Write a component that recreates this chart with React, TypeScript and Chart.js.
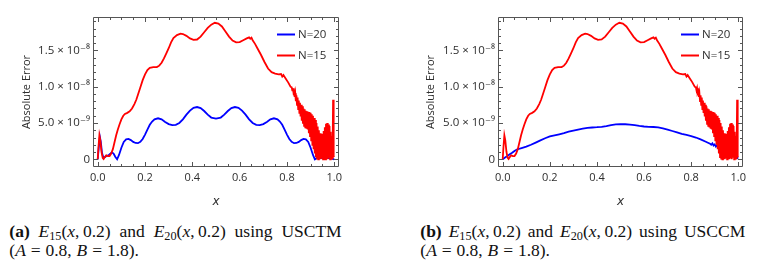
import React, { useEffect, useRef } from 'react';
import { Chart, registerables } from 'chart.js';

Chart.register(...registerables);

// Error values are in units of 1e-9 (the tick labels carry the power of ten)
const xTickValues = [0, 0.2, 0.4, 0.6, 0.8, 1.0];
const xTickLabels = ['0.0', '0.2', '0.4', '0.6', '0.8', '1.0'];
const xMinorTicks = [0.05, 0.1, 0.15, 0.25, 0.3, 0.35, 0.45, 0.5, 0.55, 0.65, 0.7, 0.75, 0.85, 0.9, 0.95];
const yTickValues = [0, 5, 10, 15];
const yTickLabels = ['0', '5.0 × 10⁻⁹', '1.0 × 10⁻⁸', '1.5 × 10⁻⁸'];
const yMinorTicks = [1, 2, 3, 4, 6, 7, 8, 9, 11, 12, 13, 14, 16, 17, 18, 19];

const seriesLabels = ['N=20', 'N=15'];

// N=15 error curve (same in both panels)
const redN15: [number, number][] = [
  [0, 0], [0.003, 1.6], [0.007, 3.3], [0.011, 2.6], [0.016, 1.0], [0.021, 0.2], [0.025, 0.05], [0.03, 0.3],
  [0.036, 0.55], [0.043, 0.45], [0.05, 0.45], [0.057, 0.8], [0.064, 1.4], [0.07, 2.2], [0.078, 3.3], [0.085, 4.1],
  [0.092, 4.8], [0.1, 5.5], [0.108, 6.0], [0.115, 6.25], [0.125, 6.4], [0.135, 6.6], [0.145, 7.0], [0.155, 7.6],
  [0.163, 8.2], [0.17, 8.9], [0.18, 9.9], [0.19, 10.9], [0.2, 11.7], [0.21, 12.3], [0.22, 12.6], [0.235, 12.7],
  [0.25, 12.7], [0.26, 12.9], [0.27, 13.3], [0.28, 13.9], [0.29, 14.6], [0.3, 15.3], [0.31, 16.1], [0.32, 16.7],
  [0.335, 17.1], [0.35, 17.3], [0.36, 17.25], [0.375, 17.0], [0.39, 16.65], [0.405, 16.45], [0.42, 16.5],
  [0.435, 16.9], [0.45, 17.5], [0.465, 18.1], [0.48, 18.55], [0.495, 18.8], [0.51, 18.7], [0.525, 18.3],
  [0.54, 17.6], [0.555, 16.9], [0.57, 16.35], [0.585, 16.1], [0.6, 16.15], [0.615, 16.4], [0.63, 16.65],
  [0.64, 16.8], [0.645, 16.6], [0.65, 16.75], [0.655, 16.4], [0.665, 15.9], [0.675, 15.3], [0.69, 14.4],
  [0.705, 13.4], [0.72, 12.5], [0.735, 12.0], [0.75, 11.8], [0.765, 11.7], [0.775, 11.75], [0.78, 11.4],
  [0.785, 11.6], [0.795, 11.1], [0.805, 10.6], [0.815, 10.0],
  [0.82, 9.9], [0.8225, 9.5], [0.825, 9.8], [0.8275, 9.2], [0.83, 9.4], [0.8325, 8.6], [0.835, 9.1], [0.8375, 8.0],
  [0.84, 8.8], [0.8425, 7.5], [0.845, 8.5], [0.8475, 6.9], [0.85, 8.1], [0.8525, 6.4], [0.855, 7.8], [0.8575, 5.9],
  [0.86, 7.5], [0.8625, 5.3], [0.865, 7.3], [0.8675, 4.9], [0.87, 7.0], [0.8725, 4.6], [0.875, 6.9], [0.8775, 4.4],
  [0.88, 6.7], [0.8825, 4.2], [0.885, 6.6], [0.8875, 4.1], [0.89, 6.5], [0.8925, 3.6], [0.895, 6.5], [0.8975, 3.2],
  [0.9, 6.4], [0.9025, 2.6], [0.905, 6.2], [0.9075, 2.0], [0.91, 6.0], [0.9125, 1.4], [0.915, 5.7], [0.9175, 0.8],
  [0.92, 5.4], [0.9225, 0.3], [0.925, 5.0], [0.9275, 0.1], [0.93, 4.5], [0.9325, 0.0], [0.935, 4.0], [0.9375, 0.2],
  [0.94, 3.6], [0.9425, 0.0], [0.945, 3.4], [0.9475, 0.1], [0.95, 3.5], [0.9525, 0.0], [0.955, 3.9], [0.9575, 0.2],
  [0.96, 4.4], [0.9625, 0.0], [0.965, 4.9], [0.9675, 0.1], [0.97, 5.0], [0.9725, 0.0], [0.975, 4.8], [0.9775, 0.2],
  [0.98, 4.6], [0.9825, 0.0], [0.985, 3.8], [0.9875, 0.1], [0.99, 3.2], [0.9925, 0.0], [0.995, 8.2], [0.9975, 0.4],
  [1.0, 0.3],
];

// N=20 error curve, panel (a) USCTM
const blueN20A: [number, number][] = [
  [0, 0], [0.004, 1.5], [0.009, 3.1], [0.013, 2.4], [0.018, 0.9], [0.024, 0.2], [0.03, 0.3], [0.038, 0.5],
  [0.045, 0.55], [0.052, 0.75], [0.06, 0.95], [0.067, 0.8], [0.074, 0.35], [0.082, 0.0], [0.09, 0.6], [0.1, 1.6],
  [0.11, 2.4], [0.12, 2.75], [0.13, 2.8], [0.14, 2.65], [0.15, 2.4], [0.16, 2.25], [0.17, 2.22], [0.18, 2.4],
  [0.19, 2.8], [0.2, 3.4], [0.21, 4.1], [0.22, 4.75], [0.23, 5.2], [0.24, 5.5], [0.255, 5.65], [0.27, 5.5],
  [0.285, 5.15], [0.3, 4.85], [0.315, 4.72], [0.33, 4.75], [0.345, 5.0], [0.36, 5.5], [0.375, 6.15], [0.39, 6.7],
  [0.405, 7.1], [0.42, 7.2], [0.435, 7.05], [0.45, 6.65], [0.465, 6.15], [0.48, 5.75], [0.5, 5.6], [0.52, 5.75],
  [0.535, 6.15], [0.55, 6.65], [0.565, 7.05], [0.58, 7.2], [0.595, 7.1], [0.61, 6.7], [0.625, 6.15], [0.64, 5.5],
  [0.655, 5.0], [0.67, 4.75], [0.685, 4.72], [0.7, 4.85], [0.715, 5.15], [0.73, 5.5], [0.745, 5.65], [0.76, 5.5],
  [0.77, 5.2], [0.78, 4.75], [0.79, 4.1], [0.8, 3.4], [0.81, 2.8], [0.82, 2.4], [0.83, 2.22], [0.84, 2.25],
  [0.85, 2.4], [0.86, 2.65], [0.87, 2.8], [0.88, 2.75], [0.89, 2.4], [0.9, 1.6], [0.91, 0.6], [0.918, 0.0],
  [0.93, 0.25], [0.95, 0.15], [0.97, 0.2], [0.99, 0.1], [1.0, 0],
];

// N=20 error curve, panel (b) USCCM
const blueN20B: [number, number][] = [
  [0, 0], [0.01, 0.25], [0.02, 0.45], [0.03, 0.7], [0.04, 0.9], [0.05, 1.15], [0.06, 1.35], [0.08, 1.55],
  [0.1, 1.75], [0.12, 2.0], [0.14, 2.3], [0.16, 2.6], [0.18, 2.9], [0.2, 3.15], [0.22, 3.3], [0.24, 3.45],
  [0.26, 3.6], [0.28, 3.8], [0.3, 3.95], [0.32, 4.1], [0.34, 4.22], [0.36, 4.32], [0.38, 4.38], [0.4, 4.42],
  [0.42, 4.48], [0.44, 4.58], [0.46, 4.7], [0.48, 4.8], [0.5, 4.85], [0.52, 4.83], [0.54, 4.78], [0.56, 4.7],
  [0.58, 4.6], [0.6, 4.52], [0.62, 4.48], [0.64, 4.45], [0.66, 4.4], [0.68, 4.25], [0.7, 4.1], [0.72, 3.9],
  [0.74, 3.7], [0.76, 3.5], [0.78, 3.35], [0.8, 3.2], [0.82, 3.0], [0.84, 2.75], [0.86, 2.45], [0.88, 2.15],
  [0.885, 2.0], [0.89, 2.2], [0.895, 1.9], [0.9, 2.05], [0.905, 1.75], [0.91, 1.95], [0.915, 1.6], [0.92, 1.8],
  [0.93, 1.45], [0.94, 1.3], [0.96, 0.95], [0.98, 0.55], [1.0, 0.1],
];

const FONT = "'Open Sans', 'DejaVu Sans', sans-serif";
const SERIF = "'Liberation Serif', 'Times New Roman', serif";
const TEXT = '#2e2e2e';
const FRAME = '#555555';
const BLUE = 'rgb(0, 0, 255)';
const RED = 'rgb(255, 0, 0)';
const X_MIN = -0.02;
const X_MAX = 1.02;
const Y_MIN = -1.06;
const Y_MAX = 19.6;

const framePlugin = {
  id: 'mmaFrame',
  afterDatasetsDraw(chart: any) {
    const { ctx, chartArea: a, scales } = chart;
    const xs = scales.x;
    const ys = scales.y;
    const L = Math.round(a.left) + 0.5;
    const R = Math.round(a.right) - 0.5;
    const T = Math.round(a.top) + 0.5;
    const B = Math.round(a.bottom) - 0.5;
    ctx.save();
    ctx.strokeStyle = FRAME;
    ctx.lineWidth = 1;
    ctx.beginPath();
    ctx.rect(L, T, R - L, B - T);
    const xt = (vals: number[], len: number) => {
      vals.forEach((v) => {
        const p = Math.round(xs.getPixelForValue(v)) + 0.5;
        ctx.moveTo(p, B); ctx.lineTo(p, B - len);
        ctx.moveTo(p, T); ctx.lineTo(p, T + len);
      });
    };
    const yt = (vals: number[], len: number) => {
      vals.forEach((v) => {
        const p = Math.round(ys.getPixelForValue(v)) + 0.5;
        ctx.moveTo(L, p); ctx.lineTo(L + len, p);
        ctx.moveTo(R, p); ctx.lineTo(R - len, p);
      });
    };
    xt(xTickValues, 4.5);
    xt(xMinorTicks, 2.5);
    yt(yTickValues, 4.5);
    yt(yMinorTicks, 2.5);
    ctx.stroke();
    ctx.restore();
  },
};

const legendPlugin = {
  id: 'insideLegend',
  afterDraw(chart: any) {
    const { ctx, chartArea: a } = chart;
    ctx.save();
    chart.data.datasets.forEach((ds: any, i: number) => {
      const y = Math.round(a.top + 17 + i * 20.5) + 0.5;
      ctx.strokeStyle = ds.borderColor;
      ctx.lineWidth = 2;
      ctx.beginPath();
      ctx.moveTo(a.right - 62, y);
      ctx.lineTo(a.right - 44, y);
      ctx.stroke();
      ctx.fillStyle = TEXT;
      ctx.font = `11.5px ${FONT}`;
      ctx.textAlign = 'left';
      ctx.textBaseline = 'middle';
      ctx.fillText(ds.label, a.right - 41, y);
    });
    ctx.restore();
  },
};

type PanelProps = {
  left: number;
  yAxisWidth: number;
  padRight: number;
  yTitlePad: number;
  blue: [number, number][];
};

function Panel({ left, yAxisWidth, padRight, yTitlePad, blue }: PanelProps) {
  const ref = useRef<HTMLCanvasElement>(null);
  useEffect(() => {
    const toPts = (arr: [number, number][]) => arr.map(([x, y]) => ({ x, y }));
    const config: any = {
      type: 'line',
      data: {
        datasets: [
          { label: seriesLabels[0], data: toPts(blue), borderColor: BLUE, borderWidth: 1.8, pointRadius: 0, fill: false, tension: 0, order: 1 },
          { label: seriesLabels[1], data: toPts(redN15), borderColor: RED, borderWidth: 1.8, pointRadius: 0, fill: false, tension: 0, order: 0 },
        ],
      },
      options: {
        animation: false,
        responsive: false,
        maintainAspectRatio: false,
        devicePixelRatio: 1,
        events: [],
        layout: { padding: { top: 17, right: padRight, bottom: 0, left: 0 } },
        plugins: { legend: { display: false }, tooltip: { enabled: false } },
        scales: {
          x: {
            type: 'linear',
            min: X_MIN,
            max: X_MAX,
            grid: { display: false, drawTicks: false },
            border: { display: false },
            afterBuildTicks: (s: any) => { s.ticks = xTickValues.map((v) => ({ value: v })); },
            afterFit: (s: any) => { s.height = 48; },
            ticks: {
              autoSkip: false,
              maxRotation: 0,
              padding: 4,
              color: TEXT,
              font: { family: FONT, size: 11 },
              callback: (_v: any, i: number) => xTickLabels[i],
            },
            title: {
              display: true,
              text: 'x',
              color: TEXT,
              font: { family: "'DejaVu Sans', sans-serif", size: 12, style: 'italic' },
              padding: { top: 0, bottom: 6 },
            },
          },
          y: {
            type: 'linear',
            min: Y_MIN,
            max: Y_MAX,
            grid: { display: false, drawTicks: false },
            border: { display: false },
            afterBuildTicks: (s: any) => { s.ticks = yTickValues.map((v) => ({ value: v })); },
            afterFit: (s: any) => { s.width = yAxisWidth; },
            ticks: {
              autoSkip: false,
              padding: 3,
              color: TEXT,
              font: { family: FONT, size: 11.5 },
              callback: (_v: any, i: number) => yTickLabels[i],
            },
            title: {
              display: true,
              text: 'Absolute Error',
              color: TEXT,
              font: { family: FONT, size: 11 },
              padding: { top: yTitlePad, bottom: 0 },
            },
          },
        },
      },
      plugins: [framePlugin, legendPlugin],
    };
    const chart = new Chart(ref.current as HTMLCanvasElement, config);
    return () => chart.destroy();
  }, []);
  return (
    <canvas
      ref={ref}
      width={391}
      height={215}
      style={{ position: 'absolute', left, top: 0, width: 391, height: 215, display: 'block' }}
    />
  );
}

const Sub = ({ children }: { children: React.ReactNode }) => (
  <span style={{ fontSize: '0.7em', position: 'relative', top: '0.28em' }}>{children}</span>
);

function Caption({ label, method, left, width }: { label: string; method: string; left: number; width: number }) {
  const base: React.CSSProperties = {
    position: 'absolute',
    left,
    fontFamily: SERIF,
    fontSize: 17.5,
    lineHeight: '17.5px',
    whiteSpace: 'nowrap',
    color: '#111',
  };
  return (
    <>
      <div style={{ ...base, top: 222.6, width, display: 'flex', justifyContent: 'space-between' }}>
        <b>({label})</b>
        <span><i>E</i><Sub>15</Sub>(<i>x</i>,{'\u2009'}0.2)</span>
        <span>and</span>
        <span><i>E</i><Sub>20</Sub>(<i>x</i>,{'\u2009'}0.2)</span>
        <span>using</span>
        <span>{method}</span>
      </div>
      <div style={{ ...base, top: 241.9, wordSpacing: '0.5px' }}>
        (<i>A</i> = 0.8, <i>B</i> = 1.8).
      </div>
    </>
  );
}

export default function App() {
  return (
    <div style={{ position: 'absolute', left: 0, top: 0, width: 782, height: 269, background: '#ffffff', overflow: 'hidden' }}>
      <Panel left={0} yAxisWidth={93} padRight={52} yTitlePad={20.5} blue={blueN20A} />
      <Panel left={391} yAxisWidth={107} padRight={39} yTitlePad={33.5} blue={blueN20B} />
      <Caption label="a" method="USCTM" left={9.3} width={332.4} />
      <Caption label="b" method="USCCM" left={420.3} width={325} />
    </div>
  );
}
